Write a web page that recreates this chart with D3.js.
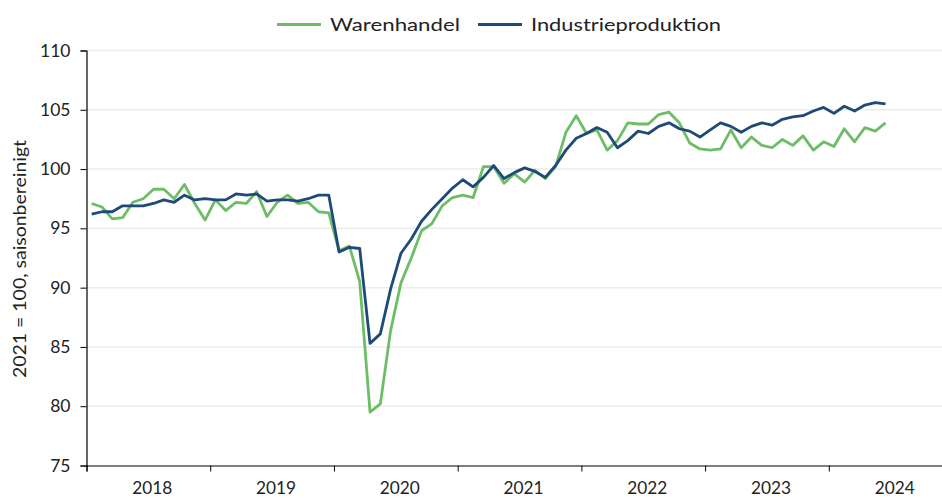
<!DOCTYPE html>
<html>
<head>
<meta charset="utf-8">
<script src="https://cdn.jsdelivr.net/npm/d3@7"></script>
<style>
  body { margin: 0; background: #fff; }
  svg { display: block; font-family: "Lato", sans-serif; }
</style>
</head>
<body>
<script>
// monthly values, Jan 2018 - Jun 2024
const warenhandel = [
  97.1, 96.8, 95.8, 95.9, 97.2, 97.5, 98.3, 98.3, 97.5, 98.7, 97.1, 95.7,
  97.4, 96.5, 97.2, 97.1, 98.1, 96.0, 97.2, 97.8, 97.1, 97.2, 96.4, 96.3,
  93.1, 93.5, 90.5, 79.5, 80.2, 86.4, 90.4, 92.5, 94.8, 95.4, 96.9, 97.6,
  97.8, 97.6, 100.2, 100.2, 98.8, 99.6, 98.9, 99.9, 99.2, 100.2, 103.1, 104.5,
  103.0, 103.3, 101.6, 102.4, 103.9, 103.8, 103.8, 104.6, 104.8, 103.9, 102.2, 101.7,
  101.6, 101.7, 103.3, 101.8, 102.7, 102.0, 101.8, 102.5, 102.0, 102.8, 101.6, 102.3,
  101.9, 103.4, 102.3, 103.5, 103.2, 103.9
];
const industrieproduktion = [
  96.2, 96.4, 96.4, 96.9, 96.9, 96.9, 97.1, 97.4, 97.2, 97.8, 97.4, 97.5,
  97.4, 97.4, 97.9, 97.8, 97.9, 97.3, 97.4, 97.4, 97.3, 97.5, 97.8, 97.8,
  93.0, 93.4, 93.3, 85.3, 86.1, 89.9, 92.9, 94.1, 95.6, 96.6, 97.5, 98.4,
  99.1, 98.5, 99.3, 100.3, 99.2, 99.7, 100.1, 99.8, 99.3, 100.3, 101.6, 102.6,
  103.0, 103.5, 103.1, 101.8, 102.4, 103.2, 103.0, 103.6, 103.9, 103.4, 103.2, 102.7,
  103.3, 103.9, 103.6, 103.1, 103.6, 103.9, 103.7, 104.2, 104.4, 104.5, 104.9, 105.2,
  104.7, 105.3, 104.9, 105.4, 105.6, 105.5
];
const years = ["2018", "2019", "2020", "2021", "2022", "2023", "2024"];
const yTicks = [75, 80, 85, 90, 95, 100, 105, 110];

const w = 942;
const h = 498;
const padLeft = 86.5;
const padTop = 50.5;
const axisY = 465.5;

const xScale = d3.scaleLinear()
                 .domain([0, years.length * 12])
                 .range([padLeft, padLeft + years.length * 12 * 10.31]);

const yScale = d3.scaleLinear()
                 .domain([75, 110])
                 .range([axisY, padTop]);

const svg = d3.select("body")
              .append("svg")
              .attr("width", w)
              .attr("height", h);

// gridlines
svg.append("g")
  .selectAll("line")
  .data(yTicks.filter(d => d > 75))
  .enter()
  .append("line")
  .attr("x1", padLeft)
  .attr("x2", w)
  .attr("y1", d => yScale(d))
  .attr("y2", d => yScale(d))
  .attr("stroke", "#ececec")
  .attr("stroke-width", 1.5);

const yAxis = d3.axisLeft(yScale).tickValues(yTicks).tickSize(6).tickPadding(10);
const gy = svg.append("g")
  .attr("transform", "translate(" + padLeft + ",0)")
  .call(yAxis);
gy.select(".domain").attr("stroke", "#000").attr("stroke-width", 1.2);
gy.selectAll(".tick line").attr("stroke", "#000");
gy.selectAll("text").attr("font-size", 17.5).attr("fill", "#222").style("font-family", "Lato");

const xAxis = d3.axisBottom(xScale)
                .tickValues(d3.range(0, years.length * 12 + 1, 12))
                .tickSize(6)
                .tickFormat("");
const gx = svg.append("g")
  .attr("transform", "translate(0," + axisY + ")")
  .call(xAxis);
gx.select(".domain").attr("stroke", "#000").attr("stroke-width", 1.2);
gx.selectAll(".tick line").attr("stroke", "#000");

svg.append("g")
  .selectAll("text")
  .data(years)
  .enter()
  .append("text")
  .attr("x", (d, i) => xScale(i * 12 + 6) + 4)
  .attr("y", 494)
  .attr("text-anchor", "middle")
  .attr("font-size", 17.5)
  .attr("textLength", 40)
  .attr("lengthAdjust", "spacingAndGlyphs")
  .attr("fill", "#222")
  .text(d => d);

svg.append("text")
  .attr("transform", "translate(26," + 259 + ") rotate(-90)")
  .attr("text-anchor", "middle")
  .attr("font-size", 17)
  .attr("textLength", 238)
  .attr("lengthAdjust", "spacingAndGlyphs")
  .attr("fill", "#222")
  .text("2021 = 100, saisonbereinigt");

const line = d3.line()
               .x((d, i) => xScale(i + 0.5))
               .y(d => yScale(d));

const series = [
  { name: "Warenhandel", values: warenhandel, color: "#6dbd67", textW: 130 },
  { name: "Industrieproduktion", values: industrieproduktion, color: "#1d4a76", textW: 190 }
];

series.forEach(s => {
  svg.append("path")
    .datum(s.values)
    .attr("fill", "none")
    .attr("stroke", s.color)
    .attr("stroke-width", 2.8)
    .attr("stroke-linejoin", "round")
    .attr("d", line);
});

// legend
const legendX = [277, 478];
series.forEach((s, i) => {
  svg.append("line")
    .attr("x1", legendX[i])
    .attr("x2", legendX[i] + 44)
    .attr("y1", 24.5)
    .attr("y2", 24.5)
    .attr("stroke", s.color)
    .attr("stroke-width", 2.8);
  svg.append("text")
    .attr("x", legendX[i] + 53)
    .attr("y", 30.5)
    .attr("font-size", 17)
    .attr("textLength", s.textW)
    .attr("lengthAdjust", "spacingAndGlyphs")
    .attr("fill", "#222")
    .text(s.name);
});
</script>
</body>
</html>
